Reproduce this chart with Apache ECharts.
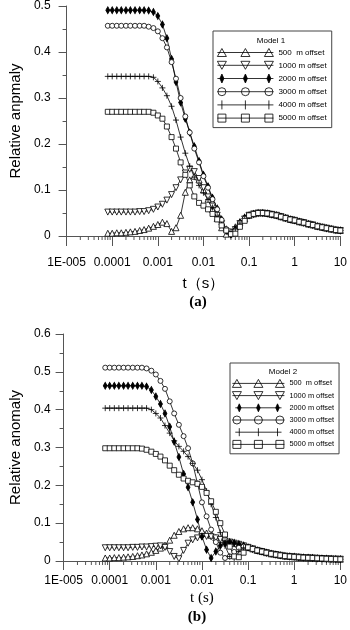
<!DOCTYPE html>
<html>
<head>
<meta charset="utf-8">
<script src="https://cdn.jsdelivr.net/npm/echarts@6/dist/echarts.min.js"></script>
<style>
  html, body { margin: 0; padding: 0; background: #fff; }
  #chart { width: 350px; height: 630px; }
</style>
</head>
<body>
<div id="chart"></div>
<script>
// sample times (s), shared by every curve
const times = [0.00008,
  0.0001, 0.000126, 0.000158, 0.0002, 0.00025, 0.000316, 0.0004, 0.0005, 0.00063, 0.0008,
  0.001, 0.00126, 0.00158, 0.002, 0.0025, 0.00316, 0.004, 0.005, 0.0063, 0.008,
  0.01, 0.0126, 0.0158, 0.02, 0.025, 0.0316, 0.04, 0.05, 0.063, 0.08,
  0.1, 0.126, 0.158, 0.2, 0.25, 0.316, 0.4, 0.5, 0.63, 0.8,
  1, 1.26, 1.58, 2, 2.5, 3.16, 4, 5, 6.3, 8,
  10];

const offsets = ['500  m offset', '1000 m offset', '2000 m offset', '3000 m offset', '4000 m offset', '5000 m offset'];
const xTickLabels = ['1E-005', '0.0001', '0.001', '0.01', '0.1', '1', '10'];

// Model 1: 8e-5 .. 0.08 s, then a common tail 0.1 .. 10 s
const m1_500 = [0.006,
  0.006, 0.007, 0.007, 0.008, 0.009, 0.010, 0.012, 0.014, 0.017, 0.021,
  0.025, 0.030, 0.027, 0.010, 0.018, 0.045, 0.095, 0.122, 0.130, 0.122,
  0.100, 0.080, 0.058, 0.038, 0.018, 0.004, 0.010, 0.020, 0.030, 0.038];
const m1_1000 = [0.052,
  0.052, 0.052, 0.052, 0.052, 0.052, 0.052, 0.053, 0.053, 0.055, 0.058,
  0.063, 0.069, 0.078, 0.090, 0.105, 0.122, 0.137, 0.145, 0.140, 0.125,
  0.105, 0.085, 0.065, 0.045, 0.027, 0.010, 0.003, 0.014, 0.027, 0.037];
const m1_2000 = [0.491,
  0.491, 0.491, 0.491, 0.491, 0.491, 0.491, 0.491, 0.491, 0.490, 0.487,
  0.478, 0.460, 0.430, 0.385, 0.335, 0.290, 0.255, 0.225, 0.195, 0.163,
  0.133, 0.108, 0.083, 0.060, 0.036, 0.014, 0.003, 0.015, 0.030, 0.040];
const m1_3000 = [0.457,
  0.457, 0.457, 0.457, 0.457, 0.457, 0.457, 0.457, 0.457, 0.455, 0.452,
  0.445, 0.430, 0.410, 0.378, 0.342, 0.300, 0.260, 0.225, 0.190, 0.160,
  0.130, 0.105, 0.080, 0.058, 0.035, 0.015, 0.003, 0.012, 0.028, 0.038];
const m1_4000 = [0.347,
  0.347, 0.347, 0.347, 0.347, 0.347, 0.347, 0.347, 0.347, 0.347, 0.345,
  0.336, 0.322, 0.305, 0.282, 0.252, 0.215, 0.180, 0.152, 0.128, 0.110,
  0.094, 0.079, 0.062, 0.043, 0.025, 0.010, 0.004, 0.015, 0.028, 0.038];
const m1_5000 = [0.270,
  0.270, 0.270, 0.270, 0.270, 0.270, 0.270, 0.270, 0.270, 0.270, 0.268,
  0.262, 0.255, 0.238, 0.215, 0.190, 0.160, 0.133, 0.110, 0.086, 0.072,
  0.066, 0.058, 0.048, 0.036, 0.023, 0.012, 0.004, 0.005, 0.020, 0.033];
const m1_tail = [0.045, 0.048, 0.050, 0.050, 0.049, 0.047, 0.045, 0.042, 0.039, 0.036,
  0.034, 0.031, 0.029, 0.026, 0.024, 0.021, 0.019, 0.017, 0.015, 0.013, 0.012];

// Model 2
const m2_500 = [0.008,
  0.008, 0.009, 0.009, 0.010, 0.011, 0.012, 0.014, 0.016, 0.019, 0.023,
  0.028, 0.034, 0.042, 0.055, 0.068, 0.078, 0.085, 0.088, 0.088, 0.085,
  0.080, 0.074, 0.068, 0.062, 0.057, 0.052, 0.049, 0.046, 0.043, 0.040];
const m2_1000 = [0.035,
  0.035, 0.035, 0.035, 0.035, 0.035, 0.036, 0.036, 0.037, 0.037, 0.038,
  0.039, 0.040, 0.036, 0.025, 0.012, 0.006, 0.028, 0.047, 0.056, 0.061,
  0.064, 0.065, 0.064, 0.061, 0.057, 0.053, 0.050, 0.047, 0.044, 0.040];
const m2_2000 = [0.463,
  0.463, 0.463, 0.463, 0.463, 0.463, 0.463, 0.463, 0.463, 0.461, 0.452,
  0.435, 0.415, 0.390, 0.355, 0.315, 0.275, 0.230, 0.195, 0.155, 0.110,
  0.065, 0.030, 0.008, 0.025, 0.040, 0.047, 0.050, 0.048, 0.045, 0.041];
const m2_3000 = [0.511,
  0.511, 0.511, 0.511, 0.511, 0.511, 0.511, 0.511, 0.511, 0.509, 0.503,
  0.493, 0.476, 0.455, 0.422, 0.390, 0.360, 0.330, 0.298, 0.258, 0.205,
  0.155, 0.118, 0.083, 0.050, 0.022, 0.008, 0.012, 0.024, 0.035, 0.038];
const m2_4000 = [0.404,
  0.404, 0.404, 0.404, 0.404, 0.404, 0.404, 0.404, 0.404, 0.404, 0.400,
  0.390, 0.378, 0.358, 0.338, 0.318, 0.303, 0.290, 0.276, 0.258, 0.240,
  0.215, 0.185, 0.150, 0.115, 0.075, 0.040, 0.012, 0.008, 0.025, 0.035];
const m2_5000 = [0.298,
  0.298, 0.298, 0.298, 0.298, 0.298, 0.298, 0.298, 0.297, 0.294, 0.289,
  0.283, 0.276, 0.266, 0.252, 0.240, 0.228, 0.218, 0.212, 0.208, 0.204,
  0.196, 0.180, 0.158, 0.130, 0.100, 0.070, 0.038, 0.012, 0.010, 0.022];
const m2_tail = [0.036, 0.032, 0.028, 0.025, 0.022, 0.019, 0.017, 0.015, 0.013, 0.012,
  0.011, 0.010, 0.009, 0.0085, 0.008, 0.0072, 0.0066, 0.006, 0.0055, 0.005, 0.0047];

const sans = 'Liberation Sans, Arial, sans-serif';
const serif = 'Liberation Serif, Times New Roman, serif';
const axisColor = '#555';

// marker per offset: [symbol, size, filled]
const markers = [
  ['triangle', 6, false],
  ['path://M0,0L10,0L5,9Z', 6, false],
  ['diamond', [4, 7], true],
  ['circle', 5, false],
  ['path://M5,0L5,10M0,5L10,5', 6, false],
  ['rect', 5, false]
];
const iconShapes = ['tri', 'triDown', 'diamond', 'circle', 'plus', 'square'];

// legend picture: a line with the marker drawn three times
function legendIcon(shape, w) {
  let d = 'M0,4.5L' + w + ',4.5';
  [4.5, w / 2, w - 4.5].forEach(function (cx) {
    if (shape === 'tri') d += 'M' + (cx - 4.5) + ',8.5L' + cx + ',0.5L' + (cx + 4.5) + ',8.5Z';
    if (shape === 'triDown') d += 'M' + (cx - 4.5) + ',0.5L' + (cx + 4.5) + ',0.5L' + cx + ',8.5Z';
    if (shape === 'diamond') d += 'M' + cx + ',0L' + (cx + 2) + ',4.5L' + cx + ',9L' + (cx - 2) + ',4.5Z';
    if (shape === 'circle') d += 'M' + (cx - 4) + ',4.5a4,4 0 1,0 8,0a4,4 0 1,0 -8,0';
    if (shape === 'plus') d += 'M' + cx + ',0L' + cx + ',9';
    if (shape === 'square') d += 'M' + (cx - 4) + ',0.5h8v8h-8Z';
  });
  return 'path://' + d;
}

function makeSeries(values, tail, k, axisIndex) {
  const vals = values.concat(tail);
  const m = markers[k];
  return {
    type: 'line',
    name: offsets[k],
    xAxisIndex: axisIndex,
    yAxisIndex: axisIndex,
    data: times.map(function (t, i) { return [t, vals[i]]; }),
    symbol: m[0],
    symbolSize: m[1],
    showAllSymbol: true,
    itemStyle: { color: m[2] ? '#000' : '#fff', borderColor: '#000', borderWidth: 0.8 },
    lineStyle: { color: '#000', width: 0.8 },
    z: 3
  };
}

// 2..9 minor ticks on the log axis
const minorTicks = [];
for (let e = -5; e < 1; e++) {
  for (let m = 2; m <= 9; m++) minorTicks.push([m * Math.pow(10, e), 0]);
}
function minorTickSeries(axisIndex) {
  return {
    type: 'custom',
    xAxisIndex: axisIndex,
    yAxisIndex: axisIndex,
    silent: true,
    clip: false,
    data: minorTicks,
    renderItem: function (params, api) {
      const p = api.coord([api.value(0), 0]);
      return {
        type: 'line',
        shape: { x1: p[0], y1: p[1], x2: p[0], y2: p[1] + 4 },
        style: { stroke: axisColor, lineWidth: 1 }
      };
    }
  };
}

function xAxis(grid, margin, tickLen, name, nameFont, nameGap) {
  return {
    type: 'log', gridIndex: grid, min: 0.00001, max: 10, logBase: 10,
    axisLine: { lineStyle: { color: axisColor } },
    axisTick: { length: tickLen, lineStyle: { color: axisColor } },
    splitLine: { show: false },
    axisLabel: {
      margin: margin, color: '#000', fontSize: 12, fontFamily: sans,
      formatter: function (v) { return xTickLabels[Math.round(Math.log10(v)) + 5]; }
    },
    name: name, nameLocation: 'middle', nameGap: nameGap,
    nameTextStyle: { color: '#000', fontSize: 15, fontFamily: nameFont }
  };
}

function yAxis(grid, max, name, margin) {
  return {
    type: 'value', gridIndex: grid, min: 0, max: max, interval: 0.1,
    axisLine: { show: true, lineStyle: { color: axisColor } },
    axisTick: { show: true, length: 8, lineStyle: { color: axisColor } },
    minorTick: { show: true, splitNumber: 2, length: 4, lineStyle: { color: axisColor } },
    splitLine: { show: false },
    axisLabel: { margin: margin, color: '#000', fontSize: 12, fontFamily: sans },
    name: name, nameLocation: 'middle', nameRotate: 90, nameGap: 38,
    nameTextStyle: { color: '#000', fontSize: 15, fontFamily: sans }
  };
}

function legend(left, top, padding, w, h, gap, fontSize) {
  return {
    orient: 'vertical', left: left, top: top, padding: padding,
    itemWidth: w, itemHeight: h, itemGap: gap, selectedMode: false,
    borderColor: '#444', borderWidth: 1,
    textStyle: { color: '#000', fontSize: fontSize, fontFamily: sans, lineHeight: h },
    data: offsets.map(function (name, k) {
      return {
        name: name,
        icon: legendIcon(iconShapes[k], w),
        itemStyle: { color: markers[k][2] ? '#000' : '#fff', borderColor: '#000', borderWidth: 0.8 }
      };
    })
  };
}

const m1 = [m1_500, m1_1000, m1_2000, m1_3000, m1_4000, m1_5000];
const m2 = [m2_500, m2_1000, m2_2000, m2_3000, m2_4000, m2_5000];

const chart = echarts.init(document.getElementById('chart'));
chart.setOption({
  animation: false,
  backgroundColor: '#fff',
  grid: [
    { left: 55, right: 7, top: 6, bottom: 394 },
    { left: 54, right: 8, top: 334, bottom: 69 }
  ],
  xAxis: [
    xAxis(0, 21, 10, 't（s）', sans, 40),
    xAxis(1, 14, 9, 't (s)', serif, 30)
  ],
  yAxis: [
    yAxis(0, 0.5, 'Relative anpmaly', 16),
    yAxis(1, 0.6, 'Relative anomaly', 13)
  ],
  legend: [
    legend(213, 31, [17, 5, 5, 4], 56, 9, 3.8, 8),
    legend(230, 363, [16, 5, 5, 2], 52, 8, 3.4, 7.4)
  ],
  graphic: [
    { type: 'text', x: 271, y: 41, style: { text: 'Model 1', align: 'center', verticalAlign: 'middle', fontSize: 8, fontFamily: sans, fill: '#000' } },
    { type: 'text', x: 283, y: 372, style: { text: 'Model 2', align: 'center', verticalAlign: 'middle', fontSize: 8, fontFamily: sans, fill: '#000' } },
    { type: 'text', x: 198, y: 302, style: { text: '(a)', align: 'center', verticalAlign: 'middle', fontSize: 15, fontWeight: 'bold', fontFamily: serif, fill: '#000' } },
    { type: 'text', x: 197, y: 617, style: { text: '(b)', align: 'center', verticalAlign: 'middle', fontSize: 15, fontWeight: 'bold', fontFamily: serif, fill: '#000' } }
  ],
  series: m1.map(function (v, k) { return makeSeries(v, m1_tail, k, 0); })
    .concat(m2.map(function (v, k) { return makeSeries(v, m2_tail, k, 1); }))
    .concat([minorTickSeries(0), minorTickSeries(1)])
});
</script>
</body>
</html>
